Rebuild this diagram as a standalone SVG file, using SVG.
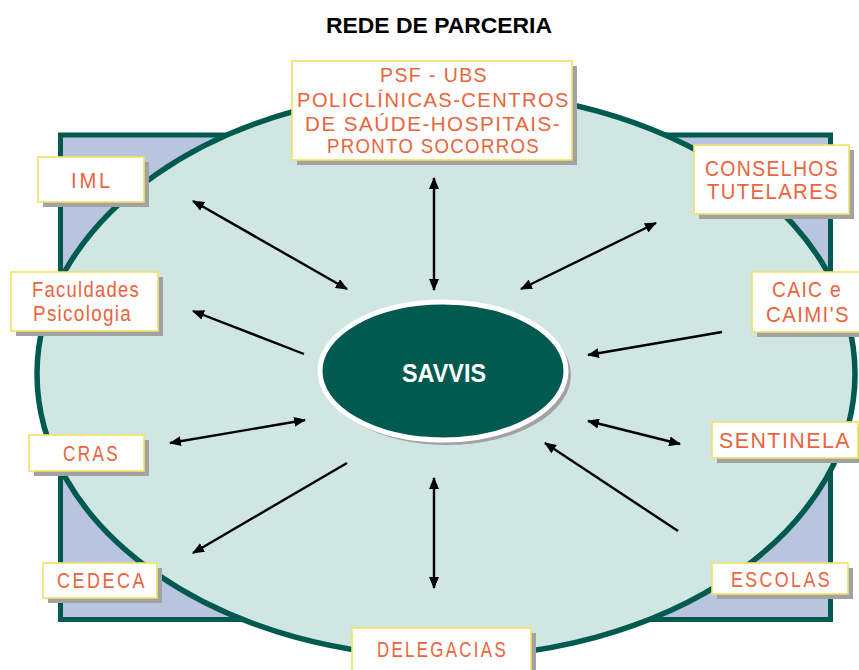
<svg xmlns="http://www.w3.org/2000/svg" width="859" height="670" viewBox="0 0 859 670">
<defs>
<marker id="ah" viewBox="0 0 12 10" refX="11" refY="5" markerWidth="12" markerHeight="10" markerUnits="userSpaceOnUse" orient="auto-start-reverse">
<path d="M0,0 L12,5 L0,10 z" fill="#000"/>
</marker>
</defs>
<style>
.box{fill:#fff;stroke:#f2e265;stroke-width:1.6}
.shadow{fill:#a2a2a2}
.lbl{font-family:"Liberation Sans",Arial,sans-serif;font-size:22px;fill:#ea643c;text-anchor:middle;letter-spacing:3px}
.lc{letter-spacing:1.5px}
.ps{font-size:21px}
.conn line{stroke:#000;stroke-width:2.4}
</style>
<rect width="859" height="670" fill="#fff"/>
<text x="439" y="33" font-family="Liberation Sans,Arial,sans-serif" font-size="22" font-weight="bold" text-anchor="middle" textLength="226" lengthAdjust="spacingAndGlyphs">REDE DE PARCERIA</text>
<g id="background">
<rect x="60.5" y="135" width="770" height="484.5" fill="#b9c4de" stroke="#005a50" stroke-width="5"/>
<ellipse cx="446" cy="374" rx="409" ry="283" fill="#d0e6e2" stroke="#005a50" stroke-width="5.5"/>
</g>
<g id="savvis">
<ellipse cx="447" cy="375" rx="124" ry="70" fill="#a2a2a2"/>
<ellipse cx="443" cy="371" rx="123" ry="69" fill="#005a50" stroke="#fff" stroke-width="5"/>
<text x="444" y="382" font-family="Liberation Sans,Arial,sans-serif" font-size="25" font-weight="bold" fill="#fff" text-anchor="middle" textLength="84" lengthAdjust="spacingAndGlyphs">SAVVIS</text>
</g>
<g class="conn" id="connectors">
<line x1="193" y1="201" x2="347" y2="289" marker-start="url(#ah)" marker-end="url(#ah)"/>
<line x1="434" y1="178" x2="434" y2="290" marker-start="url(#ah)" marker-end="url(#ah)"/>
<line x1="656" y1="223" x2="521" y2="289" marker-start="url(#ah)" marker-end="url(#ah)"/>
<line x1="304" y1="354" x2="193" y2="311" marker-end="url(#ah)"/>
<line x1="722" y1="332" x2="588" y2="355" marker-end="url(#ah)"/>
<line x1="170" y1="443" x2="305" y2="420" marker-start="url(#ah)" marker-end="url(#ah)"/>
<line x1="588" y1="421" x2="680" y2="444" marker-start="url(#ah)" marker-end="url(#ah)"/>
<line x1="678" y1="531" x2="545" y2="443" marker-end="url(#ah)"/>
<line x1="347" y1="463" x2="193" y2="553" marker-end="url(#ah)"/>
<line x1="434" y1="478" x2="434" y2="588" marker-start="url(#ah)" marker-end="url(#ah)"/>
</g>
<g id="psf">
<rect class="shadow" x="297" y="66" width="280" height="99"/>
<rect class="box" x="292" y="61" width="280" height="99"/>
<text class="lbl lc ps" x="434" y="82" textLength="108" lengthAdjust="spacingAndGlyphs">PSF - UBS</text>
<text class="lbl lc ps" x="433.5" y="107" textLength="273" lengthAdjust="spacingAndGlyphs">POLICLÍNICAS-CENTROS</text>
<text class="lbl lc ps" x="433" y="131" textLength="256" lengthAdjust="spacingAndGlyphs">DE SAÚDE-HOSPITAIS-</text>
<text class="lbl lc ps" x="433.5" y="153" textLength="213" lengthAdjust="spacingAndGlyphs">PRONTO SOCORROS</text>
</g>
<g id="iml">
<rect class="shadow" x="43" y="162" width="106" height="45"/>
<rect class="box" x="38" y="157" width="106" height="45"/>
<text class="lbl" x="92" y="188" textLength="42" lengthAdjust="spacingAndGlyphs">IML</text>
</g>
<g id="faculdades">
<rect class="shadow" x="16" y="277" width="147" height="59"/>
<rect class="box" x="11" y="272" width="147" height="59"/>
<text class="lbl lc" x="86" y="297" font-size="21" textLength="108" lengthAdjust="spacingAndGlyphs">Faculdades</text>
<text class="lbl lc" x="82.5" y="321" font-size="21" textLength="99" lengthAdjust="spacingAndGlyphs">Psicologia</text>
</g>
<g id="conselhos">
<rect class="shadow" x="699" y="150" width="155" height="69"/>
<rect class="box" x="694" y="145" width="155" height="69"/>
<text class="lbl lc" x="772" y="176" textLength="134" lengthAdjust="spacingAndGlyphs">CONSELHOS</text>
<text class="lbl lc" x="773" y="199" textLength="132" lengthAdjust="spacingAndGlyphs">TUTELARES</text>
</g>
<g id="caic">
<rect class="shadow" x="757" y="277" width="110" height="60"/>
<rect class="box" x="752" y="272" width="110" height="60"/>
<text class="lbl lc" x="807" y="297" textLength="70" lengthAdjust="spacingAndGlyphs">CAIC e</text>
<text class="lbl lc" x="808" y="322" textLength="84" lengthAdjust="spacingAndGlyphs">CAIMI'S</text>
</g>
<g id="cras">
<rect class="shadow" x="34" y="440" width="115" height="36"/>
<rect class="box" x="29" y="435" width="115" height="36"/>
<text class="lbl" x="91.5" y="461" textLength="57" lengthAdjust="spacingAndGlyphs">CRAS</text>
</g>
<g id="cedeca">
<rect class="shadow" x="48" y="568" width="114" height="35"/>
<rect class="box" x="43" y="563" width="114" height="35"/>
<text class="lbl" x="102" y="588" textLength="90" lengthAdjust="spacingAndGlyphs">CEDECA</text>
</g>
<g id="sentinela">
<rect class="shadow" x="717" y="427" width="146" height="36"/>
<rect class="box" x="712" y="422" width="146" height="36"/>
<text class="lbl lc" x="785" y="448" textLength="132" lengthAdjust="spacingAndGlyphs">SENTINELA</text>
</g>
<g id="escolas">
<rect class="shadow" x="717" y="568" width="136" height="31"/>
<rect class="box" x="712" y="563" width="136" height="31"/>
<text class="lbl" x="781.5" y="587" textLength="101" lengthAdjust="spacingAndGlyphs">ESCOLAS</text>
</g>
<g id="delegacias">
<rect class="shadow" x="357" y="633" width="179" height="45"/>
<rect class="box" x="352" y="628" width="179" height="45"/>
<text class="lbl" x="442.5" y="657" textLength="131" lengthAdjust="spacingAndGlyphs">DELEGACIAS</text>
</g>
</svg>
